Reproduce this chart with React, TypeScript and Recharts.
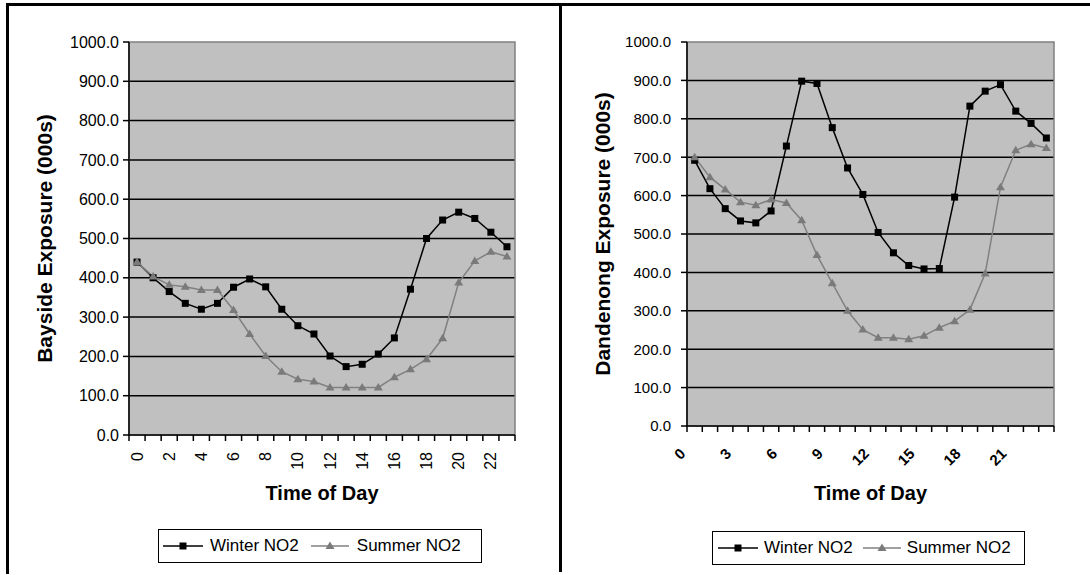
import React from 'react';
import { LineChart, Line, XAxis, YAxis, CartesianGrid, ReferenceArea } from 'recharts';

// hourly NO2 exposure (000s)
const hours = [0, 1, 2, 3, 4, 5, 6, 7, 8, 9, 10, 11, 12, 13, 14, 15, 16, 17, 18, 19, 20, 21, 22, 23];

const baysideWinter = [440, 400, 365, 335, 320, 335, 376, 397, 377, 320, 278, 257, 201, 174, 180, 206, 247, 371, 500, 547, 567, 551, 516, 479];
const baysideSummer = [440, 403, 382, 377, 369, 369, 318, 257, 201, 161, 142, 136, 121, 121, 121, 121, 147, 167, 193, 246, 388, 443, 466, 454];

const dandenongWinter = [692, 618, 566, 534, 529, 560, 729, 898, 892, 777, 672, 603, 504, 451, 418, 409, 410, 596, 833, 872, 889, 820, 788, 750];
const dandenongSummer = [700, 648, 616, 583, 575, 590, 581, 536, 445, 372, 300, 251, 230, 230, 226, 235, 256, 273, 303, 397, 622, 718, 734, 724];

const yTicks = [0, 100, 200, 300, 400, 500, 600, 700, 800, 900, 1000];
const gridValues = [100, 200, 300, 400, 500, 600, 700, 800, 900];
const baysideLabels = [0, 2, 4, 6, 8, 10, 12, 14, 16, 18, 20, 22];
const dandenongLabels = [0, 3, 6, 9, 12, 15, 18, 21];

const WINTER = 'Winter NO2';
const SUMMER = 'Summer NO2';

const FONT = '"Liberation Sans", Arial, sans-serif';

// category boundaries (Excel puts tick marks between categories) + centres for labels
const boundaries = [...hours.map((h) => h - 0.5), hours[hours.length - 1] + 0.5];
const allTicks = [...boundaries, ...hours].sort((a, b) => a - b);

const toRows = (w: number[], s: number[]) => hours.map((h, i) => ({ hour: h, winter: w[i], summer: s[i] }));

const Square = (p: any) => {
  if (p.cx == null || p.cy == null) return null;
  return <rect key={p.key} x={p.cx - 3.5} y={p.cy - 3.5} width={7} height={7} fill="#000" />;
};

const Triangle = (p: any) => {
  if (p.cx == null || p.cy == null) return null;
  const { cx, cy } = p;
  return <polygon key={p.key} points={`${cx},${cy - 4.5} ${cx + 4.5},${cy + 3} ${cx - 4.5},${cy + 3}`} fill="#7a7a7a" />;
};

const makeTick = (labels: number[], rotated45: boolean) => (props: any) => {
  const { x, y, payload } = props;
  const v = payload.value;
  if (!Number.isInteger(v)) {
    return <line x1={x} x2={x} y1={y} y2={y + 6} stroke="#000" strokeWidth={1.5} />;
  }
  if (!labels.includes(v)) return <g />;
  if (rotated45) {
    const ax = x - 12;
    const ay = y + 25;
    return (
      <text x={ax} y={ay} dy="0.35em" textAnchor="end" transform={`rotate(-45, ${ax}, ${ay})`}
        fontFamily={FONT} fontSize={15} fontWeight="bold" fill="#000">{v}</text>
    );
  }
  const ay = y + 17;
  return (
    <text x={x} y={ay} dy="0.35em" textAnchor="end" transform={`rotate(-90, ${x}, ${ay})`}
      fontFamily={FONT} fontSize={16} fill="#000">{v}</text>
  );
};

interface PanelProps {
  left: number;
  winter: number[];
  summer: number[];
  yTitle: string;
  labels: number[];
  rotated45: boolean;
  yAxisWidth: number;
  marginRight: number;
  xAxisHeight: number;
  tickMargin: number;
  tickFont: number;
  titleOffset: number;
}

const Panel = ({ left, winter, summer, yTitle, labels, rotated45, yAxisWidth, marginRight, xAxisHeight, tickMargin, tickFont, titleOffset }: PanelProps) => (
  <div style={{ position: 'absolute', left, top: 0 }}>
    <LineChart width={545} height={575} data={toRows(winter, summer)} margin={{ top: 42, right: marginRight, bottom: 75, left: 0 }}>
      <CartesianGrid vertical={false} horizontalValues={gridValues} fill="#c0c0c0" fillOpacity={1} stroke="#000" strokeWidth={1.5} />
      <ReferenceArea x1={-0.5} x2={23.5} y1={0} y2={1000} fill="none" stroke="#808080" strokeWidth={1.5} />
      <XAxis
        type="number"
        dataKey="hour"
        domain={[-0.5, 23.5]}
        ticks={allTicks}
        interval={0}
        tickSize={0}
        tickMargin={0}
        tickLine={false}
        height={xAxisHeight}
        axisLine={{ stroke: '#000', strokeWidth: 1.5 }}
        tick={makeTick(labels, rotated45)}
        label={{ value: 'Time of Day', position: 'insideBottom', offset: 0, style: { fontFamily: FONT, fontSize: 20, fontWeight: 'bold', fill: '#000' } }}
      />
      <YAxis
        type="number"
        domain={[0, 1000]}
        ticks={yTicks}
        interval={0}
        width={yAxisWidth}
        tickSize={6}
        tickMargin={tickMargin}
        tickFormatter={(v: number) => v.toFixed(1)}
        tick={{ fontFamily: FONT, fontSize: tickFont, fill: '#000' }}
        tickLine={{ stroke: '#000', strokeWidth: 1.5 }}
        axisLine={{ stroke: '#000', strokeWidth: 1.5 }}
        label={{ value: yTitle, angle: -90, position: 'insideLeft', offset: titleOffset, style: { textAnchor: 'middle', fontFamily: FONT, fontSize: 21, fontWeight: 'bold', fill: '#000' } }}
      />
      <Line dataKey="winter" name={WINTER} stroke="#000" strokeWidth={1.5} dot={Square} activeDot={false} isAnimationActive={false} />
      <Line dataKey="summer" name={SUMMER} stroke="#808080" strokeWidth={1.5} dot={Triangle} activeDot={false} isAnimationActive={false} />
    </LineChart>
  </div>
);

const LegendBox = ({ left, top, width, gaps }: { left: number; top: number; width: number; gaps: number[] }) => (
  <div style={{
    position: 'absolute', left, top, width, height: 34, boxSizing: 'border-box', border: '1.5px solid #000',
    display: 'flex', alignItems: 'center', fontFamily: FONT, fontSize: 17, color: '#000', paddingLeft: gaps[0],
  }}>
    <svg width={40} height={12}>
      <line x1={0} x2={40} y1={6} y2={6} stroke="#000" strokeWidth={1.5} />
      <rect x={16.5} y={2.5} width={7} height={7} fill="#000" />
    </svg>
    <span style={{ marginLeft: gaps[1] }}>{WINTER}</span>
    <svg width={38} height={12} style={{ marginLeft: gaps[2] }}>
      <line x1={0} x2={38} y1={6} y2={6} stroke="#808080" strokeWidth={1.5} />
      <polygon points="19,1.5 23.5,9 14.5,9" fill="#7a7a7a" />
    </svg>
    <span style={{ marginLeft: gaps[3] }}>{SUMMER}</span>
  </div>
);

export default function App() {
  return (
    <div style={{ position: 'absolute', left: 0, top: 0, width: 1090, height: 575, background: '#fff', overflow: 'hidden' }}>
      <Panel left={0} winter={baysideWinter} summer={baysideSummer} yTitle="Bayside Exposure (000s)" labels={baysideLabels}
        rotated45={false} yAxisWidth={129} marginRight={30} xAxisHeight={65} tickMargin={4} tickFont={16} titleOffset={45} />
      <Panel left={545} winter={dandenongWinter} summer={dandenongSummer} yTitle="Dandenong Exposure (000s)" labels={dandenongLabels}
        rotated45={true} yAxisWidth={142} marginRight={36} xAxisHeight={74} tickMargin={10} tickFont={15} titleOffset={58} />
      <LegendBox left={158} top={529} width={324} gaps={[4, 7, 12, 8]} />
      <LegendBox left={712} top={531} width={313} gaps={[5, 6, 10, 6]} />
      {/* outer frame and divider */}
      <div style={{ position: 'absolute', left: 6, top: 3, width: 1084, height: 3, background: '#000' }} />
      <div style={{ position: 'absolute', left: 6, top: 3, width: 3, height: 571, background: '#000' }} />
      <div style={{ position: 'absolute', left: 559, top: 3, width: 3, height: 569, background: '#000' }} />
    </div>
  );
}
